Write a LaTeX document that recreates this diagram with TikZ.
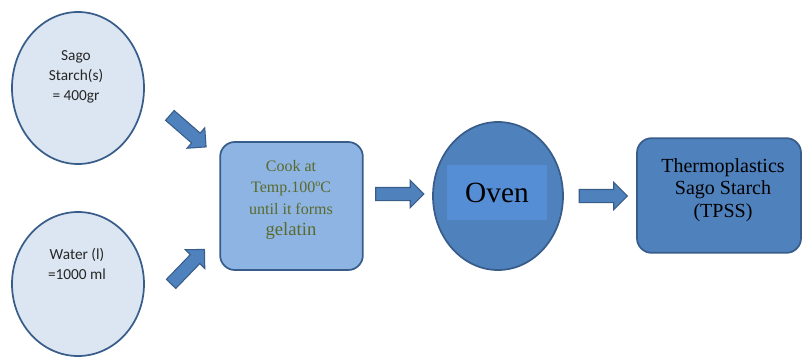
\documentclass[tikz,border=0pt]{standalone}
\usepackage{fontspec}
\setmainfont{Liberation Serif}
\setsansfont{Carlito}
\usepackage{xcolor}
\definecolor{edgeblue}{HTML}{385D8A}
\definecolor{paleblue}{HTML}{DCE6F2}
\definecolor{softblue}{HTML}{8EB4E3}
\definecolor{midblue}{HTML}{4F81BD}
\definecolor{brightblue}{HTML}{558ED5}
\definecolor{olivetext}{HTML}{5A6A2C}
\usepackage{tikz}
\usetikzlibrary{shapes.geometric, shapes.arrows}

\tikzset{
  ingredient/.style={ellipse, draw=edgeblue, line width=1.3pt, fill=paleblue, inner sep=0pt},
  stepbox/.style={rectangle, rounded corners=11pt, draw=edgeblue, line width=1.3pt, inner sep=0pt},
  blockarrow/.style={single arrow, draw=edgeblue, line width=0.8pt, fill=midblue,
    inner xsep=0pt, inner ysep=4.5pt, minimum width=19.5pt,
    single arrow head extend=5.25pt, minimum height=36pt, single arrow tip angle=90},
  sagotext/.style={align=center, font=\sffamily\fontsize{11.5}{15}\selectfont, text=black!85},
}

\begin{document}
\begin{tikzpicture}[x=0.75pt, y=-0.75pt]
  \useasboundingbox (0,0) rectangle (803,358);

  % Ingredients
  \node[ingredient, minimum width=99pt, minimum height=114pt] (sago) at (78,88) {};
  \node[sagotext] (sagolabel) at (76,77) {Sago\\Starch(s)\\= 400gr};
  \node[ingredient, minimum width=99pt, minimum height=108pt] (water) at (78,284) {};
  \node[sagotext] (waterlabel) at (77,264) {Water (l)\\=1000 ml};

  % Cooking
  \node[stepbox, fill=softblue, minimum width=107pt, minimum height=96pt] (cook) at (291.5,206) {};
  \node[align=center, text=olivetext, font=\fontsize{12}{16}\selectfont] (cooklabel) at (291,200)
    {Cook at\\Temp.100ºC\\until it forms\\{\fontsize{14}{16}\selectfont gelatin}};

  % Oven
  \node[ingredient, fill=midblue, minimum width=97.5pt, minimum height=111pt] (oven) at (498,196) {};
  \node[fill=brightblue, minimum width=75pt, minimum height=41pt, inner sep=0pt,
    font=\fontsize{22}{26}\selectfont] (ovenlabel) at (497,192.5) {Oven};

  % Product
  \node[stepbox, fill=midblue, minimum width=123pt, minimum height=86pt] (tpss) at (719,195.5) {};
  \node[align=center, font=\fontsize{15}{17}\selectfont] (tpsslabel) at (723,190)
    {Thermoplastics\\Sago Starch\\(TPSS)};

  % Block arrows
  \node[blockarrow, rotate=-41] (arrA) at (185.5,129) {};
  \node[blockarrow, rotate=46] (arrB) at (185.5,269) {};
  \node[blockarrow] (arrC) at (396.5,194) {};
  \node[blockarrow] (arrD) at (600,196) {};
\end{tikzpicture}
\end{document}
